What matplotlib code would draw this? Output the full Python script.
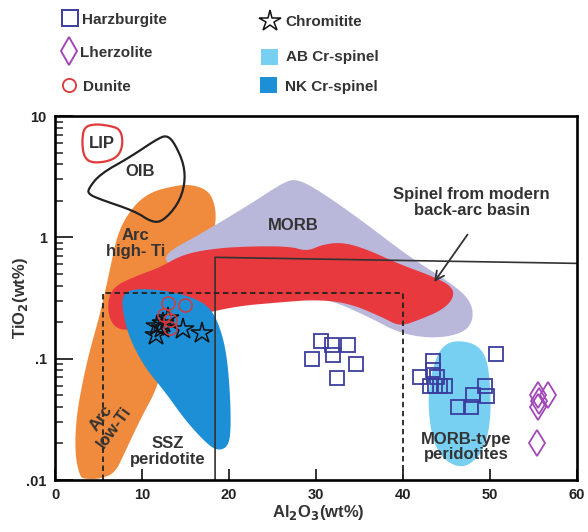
import numpy as np
import matplotlib
matplotlib.use("Agg")
import matplotlib.pyplot as plt
from matplotlib.patches import Polygon, Rectangle

plt.rcParams['font.family'] = ['Liberation Sans', 'DejaVu Sans']
plt.rcParams['font.weight'] = 'bold'
plt.rcParams['mathtext.default'] = 'bf'

TXT = "#333333"

# ----- sample data (Al2O3 wt%, TiO2 wt%) -----
harz_al = [30.6, 31.8, 33.7, 29.5, 32.0, 34.6, 32.4,
           43.4, 50.7, 41.9, 43.5, 43.9, 43.1, 43.7, 44.3, 44.8,
           49.4, 49.6, 48.1, 46.3, 47.8]
harz_ti = [0.139, 0.130, 0.130, 0.099, 0.108, 0.090, 0.069,
           0.095, 0.110, 0.070, 0.081, 0.071, 0.060, 0.060, 0.060, 0.060,
           0.060, 0.049, 0.050, 0.040, 0.040]

lherz_al = [55.5, 56.7, 55.5, 55.6, 55.4]
lherz_ti = [0.050, 0.050, 0.040, 0.045, 0.020]

dun_al = [13.0, 14.9, 12.5, 13.2, 13.2]
dun_ti = [0.285, 0.277, 0.231, 0.210, 0.180]

chr_al = [11.6, 11.7, 12.45, 13.0, 12.3, 14.75, 16.9]
chr_ti = [0.158, 0.185, 0.197, 0.217, 0.180, 0.174, 0.163]

# ----- field outlines (Al2O3, TiO2) -----
lip_x = [3.33, 4.60, 6.32, 7.47, 7.82, 7.47, 6.32, 4.25, 3.33, 3.10]
lip_y = [8.11, 8.6, 8.3, 7.8, 6.2, 4.85, 4.25, 4.09, 4.58, 6.1]

oib_x = [3.79, 5.17, 8.62, 12.07, 12.99, 13.79, 14.83, 14.94, 14.14, 12.41,
         11.15, 9.20, 5.17, 3.91]
oib_y = [2.49, 3.32, 4.58, 6.70, 6.85, 5.87, 4.0, 2.74, 1.87, 1.36,
         1.33, 1.64, 2.06, 2.26]

arc_x = [2.87, 2.30, 2.41, 3.10, 4.02, 5.17, 6.32, 7.24, 8.97, 10.92, 13.56,
         15.52, 17.59, 18.39, 18.51, 18.05, 16.09, 13.79, 12.64, 12.07, 9.77,
         8.05, 6.90, 5.17, 3.45]
arc_y = [0.0106, 0.0161, 0.0313, 0.061, 0.119, 0.231, 0.544, 1.12, 1.80, 2.35,
         2.64, 2.74, 2.45, 1.87, 1.36, 1.0, 0.634, 0.338, 0.144, 0.0634, 0.0313,
         0.0170, 0.0114, 0.0102, 0.0102]

morb_x = [12.41, 16.67, 22.41, 26.44, 27.93, 30.46, 35.06, 40.80, 45.40, 47.70,
          48.16, 47.13, 43.68, 39.66, 36.21, 31.61, 22.41, 13.22]
morb_y = [0.724, 1.06, 1.87, 2.90, 3.01, 2.40, 1.41, 0.684, 0.425, 0.307,
          0.218, 0.164, 0.146, 0.161, 0.218, 0.307, 0.433, 0.565]

bab_x = [6.55, 9.20, 12.07, 14.71, 18.39, 22.41, 27.01, 28.97, 30.80, 33.10,
         35.86, 39.66, 43.45, 45.63, 45.86, 44.60, 41.95, 39.66, 37.70, 33.91,
         30.11, 25.52, 20.46, 14.37, 8.28, 6.55, 5.98]
bab_y = [0.386, 0.476, 0.565, 0.724, 0.811, 0.843, 0.843, 0.766, 0.875, 0.910,
         0.796, 0.598, 0.476, 0.394, 0.319, 0.254, 0.210, 0.184, 0.218, 0.285,
         0.307, 0.290, 0.269, 0.210, 0.167, 0.187, 0.269]

nk_x = [7.70, 9.20, 12.64, 15.52, 17.59, 18.74, 19.66, 20.11, 20.23, 19.89,
        18.62, 17.24, 14.94, 12.64, 10.34, 8.62, 7.82]
nk_y = [0.338, 0.379, 0.365, 0.325, 0.274, 0.202, 0.119, 0.0554, 0.0259, 0.0187,
        0.0174, 0.0206, 0.0313, 0.0534, 0.0843, 0.144, 0.231]

ab_x = [46.32, 48.28, 49.54, 50.0, 50.11, 49.31, 47.70, 46.21, 44.48, 43.33,
        42.87, 43.10, 43.91, 44.94]
ab_y = [0.141, 0.133, 0.106, 0.067, 0.0313, 0.0177, 0.0133, 0.0128, 0.0152,
        0.0222, 0.0417, 0.067, 0.108, 0.133]

# boundary lines
solid_x = [18.4, 18.4, 60]
solid_y = [0.01, 0.684, 0.61]
dash_x = [5.5, 5.5, 40, 40]
dash_y = [0.01, 0.35, 0.35, 0.01]


def smooth(xs, ys, n=3):
    # Chaikin corner cutting in (x, log y)
    p = np.column_stack([xs, np.log10(ys)])
    for _ in range(n):
        q = np.roll(p, -1, axis=0)
        new = np.empty((2 * len(p), 2))
        new[0::2] = 0.75 * p + 0.25 * q
        new[1::2] = 0.25 * p + 0.75 * q
        p = new
    return np.column_stack([p[:, 0], 10 ** p[:, 1]])


fig = plt.figure(figsize=(5.88, 5.32), dpi=100)
ax = fig.add_axes([55 / 588, 52 / 532, 522 / 588, 364 / 532])
ax.set_yscale('log')
ax.set_xlim(0, 60)
ax.set_ylim(0.01, 10)

fills = [(arc_x, arc_y, "#F08A3C", 1),
         (morb_x, morb_y, "#B9B8DB", 2),
         (bab_x, bab_y, "#E8393F", 3),
         (nk_x, nk_y, "#1D8FD6", 4),
         (ab_x, ab_y, "#77CFF1", 4)]
for xs, ys, c, z in fills:
    ax.add_patch(Polygon(smooth(xs, ys), closed=True, fc=c, ec='none', zorder=z))

ax.add_patch(Polygon(smooth(lip_x, lip_y), closed=True, fc='none', ec="#E03A3A",
                     lw=1.6, zorder=5))
ax.add_patch(Polygon(smooth(oib_x, oib_y, 2), closed=True, fc='none', ec="#222222",
                     lw=1.6, zorder=5))

ax.plot(solid_x, solid_y, color="#333333", lw=1.2, zorder=5)
ax.plot(dash_x, dash_y, color="#222222", lw=1.3, ls=(0, (3, 2)), zorder=5)

ax.annotate("", xy=(43.4, 0.41), xytext=(47.6, 1.10),
            arrowprops=dict(arrowstyle='->', color="#333333", lw=1.3,
                            mutation_scale=16), zorder=6)

labels = [(5.4, 5.9, "LIP", 0), (9.8, 3.5, "OIB", 0),
          (9.3, 0.89, "Arc\nhigh- Ti", 0), (27.4, 1.26, "MORB", 0),
          (47.9, 1.93, "Spinel from modern\nback-arc basin", 0),
          (6.0, 0.0296, "Arc\nlow-Ti", 54), (13.0, 0.0172, "SSZ\nperidotite", 0),
          (47.3, 0.0187, "MORB-type\nperidotites", 0)]
for x, y, s, r in labels:
    ax.text(x, y, s, ha='center', va='center', fontsize=12, color=TXT,
            rotation=r, linespacing=1.08, zorder=6)

ax.plot(harz_al, harz_ti, ls='none', marker='s', ms=10.5, mfc='none',
        mec="#3B3D9E", mew=1.3, zorder=7)
ax.plot(lherz_al, lherz_ti, ls='none', marker='d', ms=13, mfc='none',
        mec="#A248B6", mew=1.3, zorder=7)
ax.plot(chr_al, chr_ti, ls='none', marker='*', ms=16, mfc='none',
        mec="#111111", mew=1.1, zorder=7)
ax.plot(dun_al, dun_ti, ls='none', marker='o', ms=9.5, mfc='none',
        mec="#D8383A", mew=1.1, zorder=8)

# axes styling
for sp in ax.spines.values():
    sp.set_linewidth(1.9)
    sp.set_zorder(9)
ax.set_xticks([0, 10, 20, 30, 40, 50, 60])
ax.set_xticklabels(["0", "10", "20", "30", "40", "50", "60"])
ax.set_yticks([0.01, 0.1, 1, 10])
ax.set_yticklabels([".01", ".1", "1", "10"])
ax.tick_params(axis='x', which='major', direction='in', length=8, width=1.3,
               labelsize=10.5, pad=6, colors="#222222")
ax.tick_params(axis='y', which='major', direction='in', length=13, width=1.3,
               labelsize=10.5, pad=6, colors="#222222")
ax.tick_params(axis='y', which='minor', direction='in', length=6, width=1.1,
               colors="#222222")
ax.tick_params(axis='x', which='minor', bottom=False)
for lab in ax.get_xticklabels() + ax.get_yticklabels():
    lab.set_fontweight('bold')

fig.text(20 / 588, 1 - 298 / 532, "TiO$_2$(wt%)", rotation=90,
         ha='center', va='center', fontsize=12, color=TXT)
fig.text(318 / 588, 1 - 513 / 532, "Al$_2$O$_3$(wt%)",
         ha='center', va='center', fontsize=12, color=TXT)

# legend drawn in figure pixel space
leg = fig.add_axes([0, 0, 1, 1], zorder=10)
leg.set_xlim(0, 588)
leg.set_ylim(532, 0)
leg.axis('off')
leg.plot([69.5], [17.5], marker='s', ms=11, mfc='none', mec="#3B3D9E", mew=1.4)
leg.plot([69], [51], marker='d', ms=14, mfc='none', mec="#A248B6", mew=1.4)
leg.plot([68.5], [84.5], marker='o', ms=9.5, mfc='none', mec="#D8383A", mew=1.3)
leg.plot([270], [21], marker='*', ms=16, mfc='none', mec="#111111", mew=1.1)
leg.add_patch(Rectangle((261, 49), 17, 16, fc="#77CFF1", ec='none'))
leg.add_patch(Rectangle((260, 77), 17, 16, fc="#1D8FD6", ec='none'))
leg_text = [(82, 20, "Harzburgite"), (80, 53, "Lherzolite"), (83, 87, "Dunite"),
            (285, 22, "Chromitite"), (286, 57, "AB Cr-spinel"),
            (285, 87, "NK Cr-spinel")]
for x, y, s in leg_text:
    leg.text(x, y, s, ha='left', va='center', fontsize=11, color=TXT)

fig.savefig("out.png", dpi=100)
